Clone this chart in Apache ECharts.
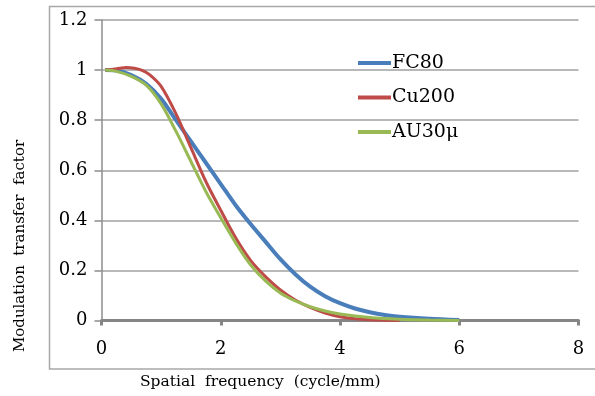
<!DOCTYPE html>
<html>
<head>
<meta charset="utf-8">
<script src="https://cdn.jsdelivr.net/npm/echarts@6/dist/echarts.min.js"></script>
<style>
html,body{margin:0;padding:0;background:#fff;}
#chart{width:595px;height:396px;}
</style>
</head>
<body>
<div id="chart"></div>
<script>
// Data
var seriesNames = ['FC80', 'Cu200', 'AU30\u03bc'];
var fc80X = [0.06, 0.25, 0.5, 0.75, 1.0, 1.25, 1.5, 1.75, 2.0, 2.25, 2.5, 2.75, 3.0, 3.25, 3.5, 3.75, 4.0, 4.25, 4.5, 4.75, 5.0, 5.5, 6.0];
var fc80Y = [1.0, 0.998, 0.98, 0.945, 0.885, 0.80, 0.715, 0.63, 0.545, 0.46, 0.385, 0.315, 0.245, 0.185, 0.135, 0.097, 0.069, 0.048, 0.033, 0.022, 0.015, 0.007, 0.002];
var cu200X = [0.06, 0.25, 0.42, 0.55, 0.67, 0.8, 1.0, 1.25, 1.5, 1.75, 2.0, 2.25, 2.5, 2.75, 3.0, 3.25, 3.5, 3.75, 4.0, 4.25, 4.5, 5.0];
var cu200Y = [1.0, 1.005, 1.01, 1.007, 1.0, 0.983, 0.935, 0.825, 0.69, 0.555, 0.44, 0.33, 0.24, 0.175, 0.122, 0.082, 0.052, 0.03, 0.015, 0.007, 0.003, 0.0];
var au30X = [0.06, 0.25, 0.5, 0.75, 1.0, 1.25, 1.5, 1.75, 2.0, 2.25, 2.5, 2.75, 3.0, 3.25, 3.5, 3.75, 4.0, 4.5, 5.0, 5.5, 6.0];
var au30Y = [1.0, 0.995, 0.975, 0.94, 0.865, 0.755, 0.635, 0.515, 0.41, 0.31, 0.222, 0.158, 0.11, 0.078, 0.055, 0.038, 0.026, 0.012, 0.005, 0.002, 0.0];
var xTicks = [0, 2, 4, 6, 8];
var yTicks = [0, 0.2, 0.4, 0.6, 0.8, 1, 1.2];
var xTitle = 'Spatial  frequency  (cycle/mm)';
var yTitle = 'Modulation  transfer  factor';

function pairs(xs, ys) { return xs.map(function (x, i) { return [x, ys[i]]; }); }

var colors = ['#4A7EBB', '#BE4B48', '#98B954'];
var widths = [4, 3, 3];
var datasets = [pairs(fc80X, fc80Y), pairs(cu200X, cu200Y), pairs(au30X, au30Y)];
var FONT = 'DejaVu Serif';

var chart = echarts.init(document.getElementById('chart'), null, {renderer: 'canvas'});
chart.setOption({
  animation: false,
  backgroundColor: '#fff',
  color: colors,
  grid: {left: 101.5, right: 16.5, top: 20, bottom: 75.5, containLabel: false},
  xAxis: {
    type: 'value', min: xTicks[0], max: xTicks[xTicks.length - 1], interval: 2,
    axisLine: {show: true, onZero: false, lineStyle: {color: '#858585', width: 3}},
    axisTick: {show: true, inside: false, length: 5, lineStyle: {color: '#858585', width: 3}},
    axisLabel: {fontFamily: FONT, fontSize: 18, color: '#000', margin: 20},
    splitLine: {show: false}
  },
  yAxis: {
    type: 'value', min: yTicks[0], max: yTicks[yTicks.length - 1], interval: 0.2,
    axisLine: {show: true, lineStyle: {color: '#8c8c8c', width: 1.5}},
    axisTick: {show: true, length: 7, lineStyle: {color: '#8c8c8c', width: 1.5}},
    axisLabel: {fontFamily: FONT, fontSize: 18, color: '#000', margin: 14,
      formatter: function (v) { return String(Math.round(v * 10) / 10); }},
    splitLine: {show: true, lineStyle: {color: '#a0a0a0', width: 1.5}}
  },
  legend: {
    orient: 'vertical', left: 353, top: 48,
    icon: 'rect', itemWidth: 33, itemHeight: 4, itemGap: 14.5,
    data: seriesNames,
    textStyle: {fontFamily: FONT, fontSize: 19, color: '#000', lineHeight: 20, padding: [0, 0, 0, -4]}
  },
  graphic: [
    {type: 'rect', shape: {x: 49.5, y: 6.5, width: 560, height: 362.5}, style: {fill: 'none', stroke: '#a8a8a8', lineWidth: 1.5}, z: -10, silent: true},
    {type: 'text', left: 140, top: 374, style: {text: xTitle, font: '15.5px "' + FONT + '"', fill: '#000'}},
    {type: 'text', x: 20, y: 246, rotation: Math.PI / 2, style: {text: yTitle, font: '15px "' + FONT + '"', fill: '#000', align: 'center', verticalAlign: 'middle'}}
  ],
  series: seriesNames.map(function (name, i) {
    return {
      name: name, type: 'line', data: datasets[i], smooth: 0.3, showSymbol: false,
      lineStyle: {color: colors[i], width: widths[i]}, itemStyle: {color: colors[i]}
    };
  })
});
</script>
</body>
</html>
